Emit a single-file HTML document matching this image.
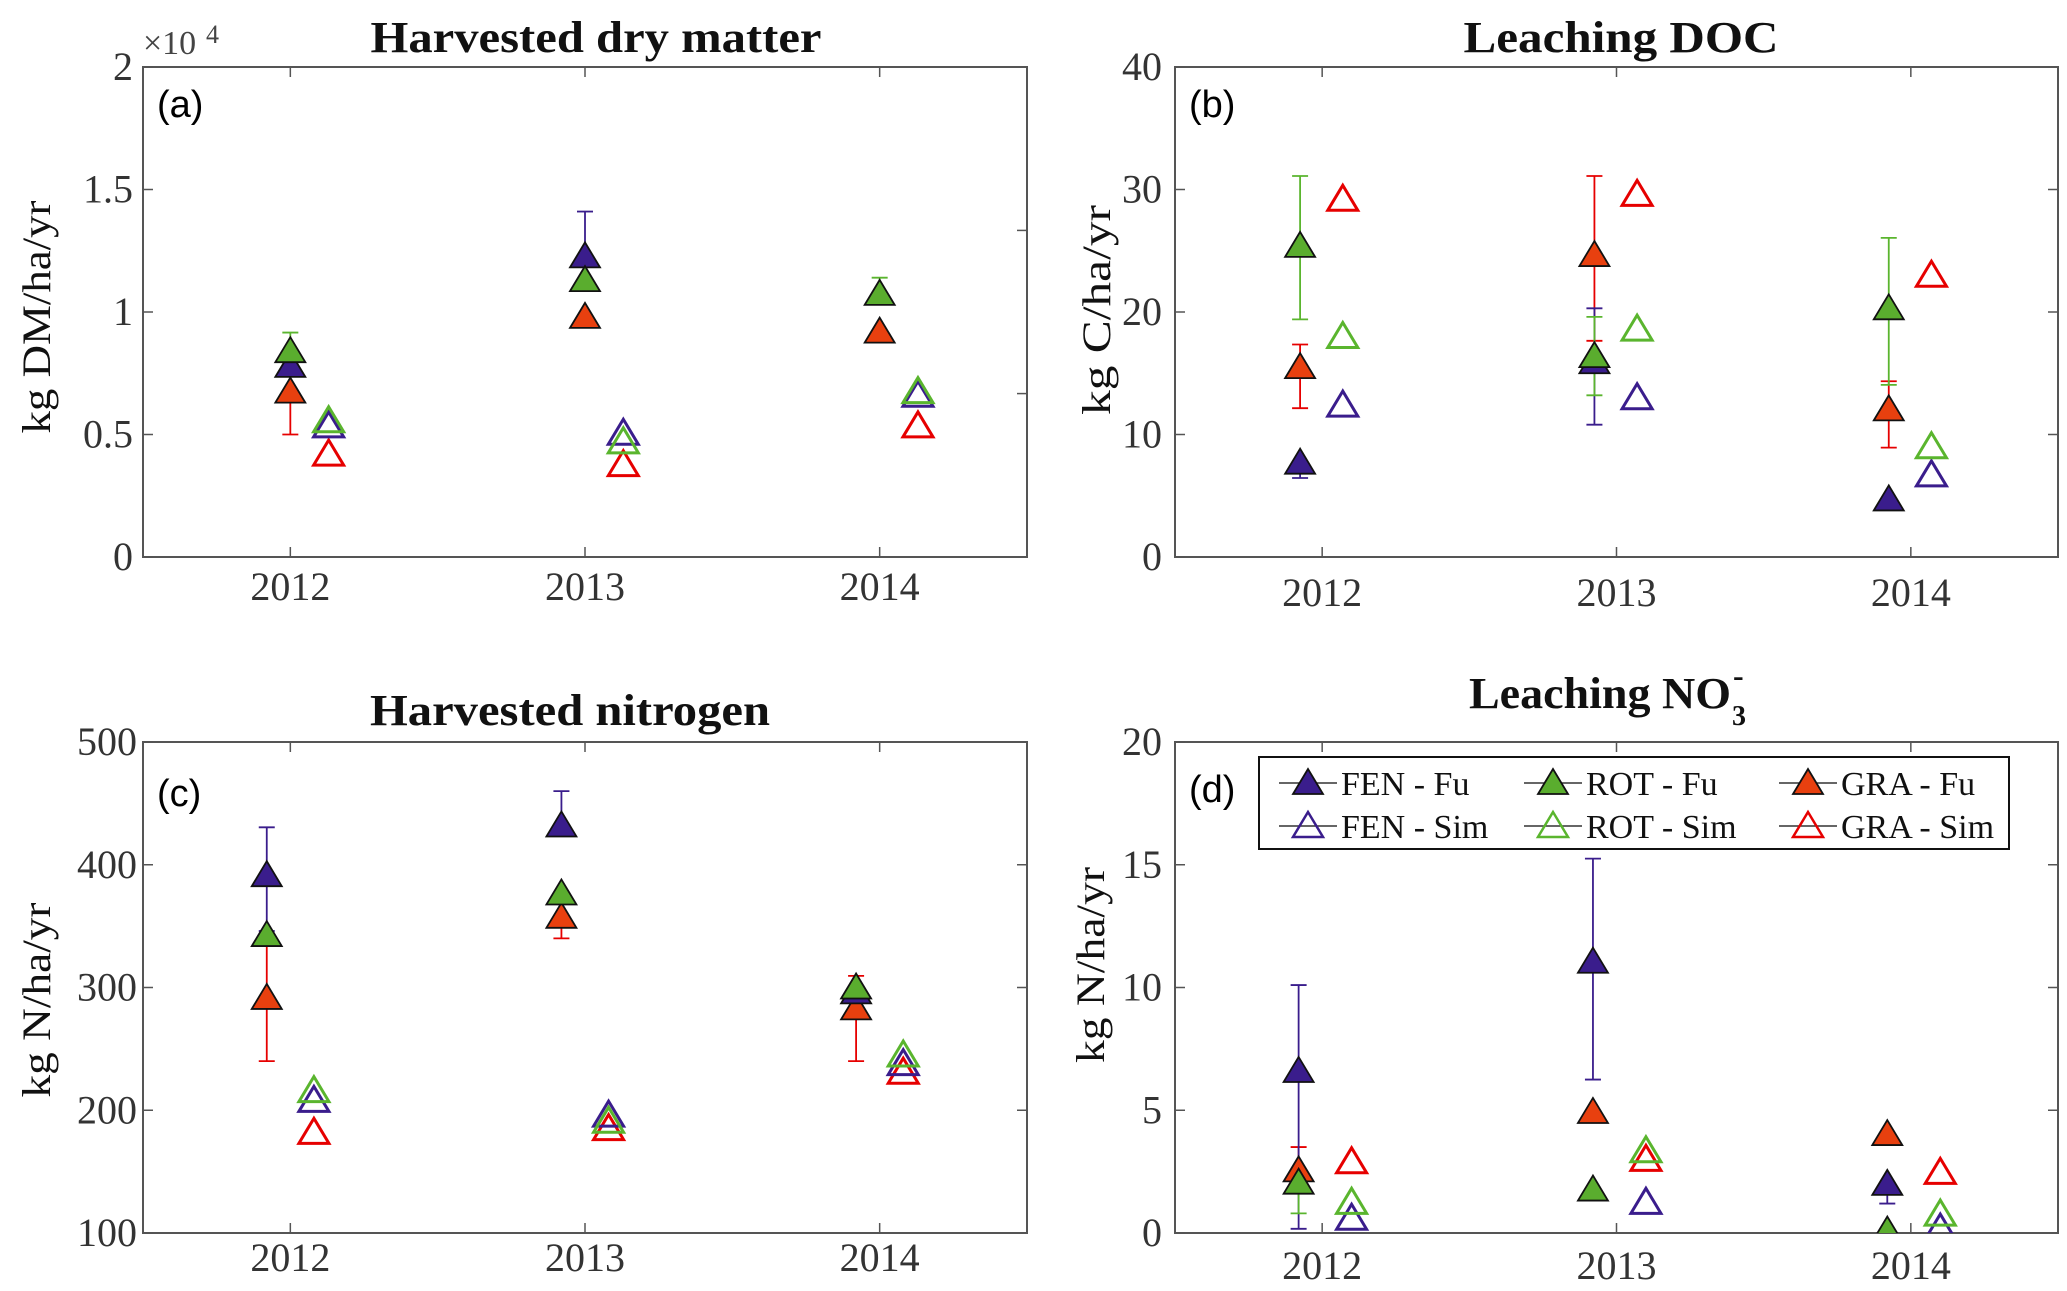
<!DOCTYPE html>
<html><head><meta charset="utf-8">
<style>
html,body{margin:0;padding:0;background:#fff;}
svg{display:block;}
text{font-family:"Liberation Serif",serif;}
</style></head>
<body>
<svg id="fig" width="2067" height="1291" viewBox="0 0 2067 1291" xmlns="http://www.w3.org/2000/svg">
<rect x="0" y="0" width="2067" height="1291" fill="#fff"/>
</svg>
<script>
// ---------- data ----------
const years = [2012, 2013, 2014];
const seriesNames = ['GRA', 'FEN', 'ROT'];
// (a) Harvested dry matter (x10^4 kg DM/ha/yr)
const aFENfu = [0.78, 1.227, NaN];
const aFENlo = [NaN, NaN, NaN];
const aFENhi = [NaN, 1.41, NaN];
const aROTfu = [0.84, 1.13, 1.074];
const aROTlo = [NaN, NaN, NaN];
const aROThi = [0.916, NaN, 1.14];
const aGRAfu = [0.675, 0.98, 0.92];
const aGRAlo = [0.50, NaN, NaN];
const aGRAhi = [NaN, NaN, NaN];
const aFENsim = [0.535, 0.505, 0.66];
const aROTsim = [0.556, 0.47, 0.675];
const aGRAsim = [0.42, 0.377, 0.535];
const aTicks = [0, 0.5, 1, 1.5, 2];
const aTickLabels = ['0', '0.5', '1', '1.5', '2'];
const aRightTicks = [0.667, 1.333];
// (b) Leaching DOC
const bFENfu = [7.7, 15.9, 4.7];
const bFENlo = [6.45, 10.8, NaN];
const bFENhi = [NaN, 20.3, NaN];
const bROTfu = [25.4, 16.4, 20.3];
const bROTlo = [19.4, 13.2, 14.05];
const bROThi = [31.1, 19.6, 26.05];
const bGRAfu = [15.5, 24.65, 12.05];
const bGRAlo = [12.15, 17.65, 8.93];
const bGRAhi = [17.35, 31.1, 14.35];
const bFENsim = [12.4, 13.0, 6.7];
const bROTsim = [18.0, 18.6, 9.0];
const bGRAsim = [29.2, 29.6, 23.0];
const bTicks = [0, 10, 20, 30, 40];
const bTickLabels = ['0', '10', '20', '30', '40'];
// (c) Harvested nitrogen
const cFENfu = [391.5, 432, 296];
const cFENlo = [346, NaN, NaN];
const cFENhi = [430.5, 460, NaN];
const cROTfu = [342.7, 376.6, 300];
const cROTlo = [NaN, NaN, NaN];
const cROThi = [NaN, NaN, NaN];
const cGRAfu = [291.5, 357.6, 283];
const cGRAlo = [240, 340, 240];
const cGRAhi = [340, 375.6, 309.5];
const cFENsim = [208, 196, 238];
const cROTsim = [216, 191, 245];
const cGRAsim = [182, 185, 231];
const cTicks = [100, 200, 300, 400, 500];
const cTickLabels = ['100', '200', '300', '400', '500'];
// (d) Leaching NO3-
const dFENfu = [6.6, 11.05, 2.0];
const dFENlo = [0.17, 6.25, 1.2];
const dFENhi = [10.1, 15.25, NaN];
const dROTfu = [2.05, 1.77, 0.1];
const dROTlo = [0.8, NaN, NaN];
const dROThi = [NaN, NaN, NaN];
const dGRAfu = [2.55, 4.93, 4.03];
const dGRAlo = [NaN, NaN, NaN];
const dGRAhi = [3.5, NaN, NaN];
const dFENsim = [0.6, 1.25, 0.2];
const dROTsim = [1.25, 3.35, 0.77];
const dGRAsim = [2.9, 3.0, 2.47];
const dTicks = [0, 5, 10, 15, 20];
const dTickLabels = ['0', '5', '10', '15', '20'];
const legendLabels = ['FEN - Fu', 'ROT - Fu', 'GRA - Fu', 'FEN - Sim', 'ROT - Sim', 'GRA - Sim'];

// ---------- styles ----------
const fuFill = {FEN: '#3a1d8c', ROT: '#5aad2e', GRA: '#e8400f'};
const simCol = {FEN: '#3a1d8c', ROT: '#5ab52e', GRA: '#e60000'};
const NS = 'http://www.w3.org/2000/svg';
const svg = document.getElementById('fig');
function mk(tag, attrs, parent) {
  const e = document.createElementNS(NS, tag);
  for (const k in attrs) e.setAttribute(k, attrs[k]);
  (parent || svg).appendChild(e);
  return e;
}

const panels = [
  {id:'a', L:143, R:1027, T:67, B:557, ymin:0, ymax:2, fuOff:0, simOff:0.13,
   title:'Harvested dry matter', titleX:596, titleY:52, titleW:451,
   ylabel:'kg DM/ha/yr', ylx:37, yly:317, ylw:233,
   ticks:aTicks, tl:aTickLabels, rt:aRightTicks, tlx:133, xly:600, letter:'(a)', lettery:117,
   fu:{FEN:[aFENfu,aFENlo,aFENhi], ROT:[aROTfu,aROTlo,aROThi], GRA:[aGRAfu,aGRAlo,aGRAhi]},
   sim:{FEN:aFENsim, ROT:aROTsim, GRA:aGRAsim}},
  {id:'b', L:1175, R:2058, T:67, B:557, ymin:0, ymax:40, fuOff:-0.075, simOff:0.07,
   title:'Leaching DOC', titleX:1621, titleY:52, titleW:315,
   ylabel:'kg C/ha/yr', ylx:1097, yly:310, ylw:210,
   ticks:bTicks, tl:bTickLabels, rt:[10,20,30], tlx:1162, xly:606, letter:'(b)', lettery:117,
   fu:{FEN:[bFENfu,bFENlo,bFENhi], ROT:[bROTfu,bROTlo,bROThi], GRA:[bGRAfu,bGRAlo,bGRAhi]},
   sim:{FEN:bFENsim, ROT:bROTsim, GRA:bGRAsim}},
  {id:'c', L:143, R:1027, T:742, B:1233, ymin:100, ymax:500, fuOff:-0.08, simOff:0.08,
   title:'Harvested nitrogen', titleX:570, titleY:725, titleW:400,
   ylabel:'kg N/ha/yr', ylx:37, yly:1000, ylw:195,
   ticks:cTicks, tl:cTickLabels, rt:[200,300,400], tlx:137, xly:1271, letter:'(c)', lettery:806,
   fu:{FEN:[cFENfu,cFENlo,cFENhi], ROT:[cROTfu,cROTlo,cROThi], GRA:[cGRAfu,cGRAlo,cGRAhi]},
   sim:{FEN:cFENsim, ROT:cROTsim, GRA:cGRAsim}},
  {id:'d', L:1175, R:2058, T:742, B:1233, ymin:0, ymax:20, fuOff:-0.08, simOff:0.1,
   title:'Leaching NO', titleX:1600, titleY:708, titleW:262,
   ylabel:'kg N/ha/yr', ylx:1091, yly:965, ylw:196,
   ticks:dTicks, tl:dTickLabels, rt:[5,10,15], tlx:1162, xly:1279, letter:'(d)', lettery:802,
   fu:{FEN:[dFENfu,dFENlo,dFENhi], ROT:[dROTfu,dROTlo,dROThi], GRA:[dGRAfu,dGRAlo,dGRAhi]},
   sim:{FEN:dFENsim, ROT:dROTsim, GRA:dGRAsim}}
];

function tri(g, cx, cy, fill, stroke, sw) {
  return mk('polygon', {points:`${cx},${cy-14} ${cx-15},${cy+11} ${cx+15},${cy+11}`, fill:fill, stroke:stroke, 'stroke-width':sw, 'stroke-linejoin':'miter'}, g);
}

panels.forEach(p => {
  const g = mk('g', {});
  
  
  const xs = yr => p.L + (yr - 2011.5) / 3 * (p.R - p.L);
  const ys = v => p.B - (v - p.ymin) / (p.ymax - p.ymin) * (p.B - p.T);
  const box = mk('rect', {x:p.L, y:p.T, width:p.R-p.L, height:p.B-p.T, fill:'none', stroke:'#555', 'stroke-width':2}, g);
  
  
  years.forEach(yr => {
    const x = xs(yr);
    mk('line', {x1:x, y1:p.B, x2:x, y2:p.B-10, stroke:'#555', 'stroke-width':1.5}, g);
    mk('line', {x1:x, y1:p.T, x2:x, y2:p.T+10, stroke:'#555', 'stroke-width':1.5}, g);
    const t = mk('text', {x:x, y:p.xly, 'text-anchor':'middle', 'font-size':40, fill:'#333'}, g);
    t.textContent = yr;
    
    
  });
  p.ticks.forEach((v, i) => {
    const y = ys(v);
    mk('line', {x1:p.L, y1:y, x2:p.L+10, y2:y, stroke:'#555', 'stroke-width':1.5}, g);
    const t = mk('text', {x:p.tlx, y:y+13, 'text-anchor':'end', 'font-size':40, fill:'#333'}, g);
    t.textContent = p.tl[i];
    
    
  });
  p.rt.forEach(v => {
    const y = ys(v);
    mk('line', {x1:p.R, y1:y, x2:p.R-10, y2:y, stroke:'#555', 'stroke-width':1.5}, g);
  });
  const tt = mk('text', {x:p.titleX, y:p.titleY, 'text-anchor':'middle', 'font-size':44, 'font-weight':'bold', fill:'#111', textLength:p.titleW, lengthAdjust:'spacingAndGlyphs'}, g);
  tt.textContent = p.title;
  
  
  if (p.id === 'd') {
    const s3 = mk('text', {x:1732, y:725, 'font-size':28, 'font-weight':'bold', fill:'#111'}, g);
    s3.textContent = '3';
    
    
    const sm = mk('text', {x:1733, y:686, 'font-size':32, 'font-weight':'bold', fill:'#111'}, g);
    sm.textContent = '-';
    
    
  }
  const yl = mk('text', {x:0, y:0, 'text-anchor':'middle', 'font-size':40, fill:'#111', transform:`translate(${p.ylx+13},${p.yly}) rotate(-90)`, textLength:p.ylw, lengthAdjust:'spacingAndGlyphs'}, g);
  yl.textContent = p.ylabel;
  
  
  if (p.id === 'a') {
    const ex = mk('text', {x:143, y:54, 'font-size':34, fill:'#444'}, g);
    ex.textContent = '\u00d710';
    
    
    const e4 = mk('text', {x:206, y:43, 'font-size':26, fill:'#444'}, g);
    e4.textContent = '4';
    
    
  }
  const lt = mk('text', {x:p.L+14, y:p.lettery, 'font-size':38, fill:'#000', style:'font-family:"Liberation Sans",sans-serif'}, g);
  lt.textContent = p.letter;
  
  
  const cp = mk('clipPath', {id:'clip-' + p.id}, g);
  mk('rect', {x:p.L, y:p.T, width:p.R-p.L, height:p.B-p.T}, cp);
  const plot = mk('g', {'clip-path':`url(#clip-${p.id})`}, g);
  
  
  ['GRA', 'FEN', 'ROT'].forEach(s => {
    const vals = p.sim[s];
    years.forEach((yr, i) => {
      if (isNaN(vals[i])) return;
      const m = tri(plot, xs(yr + p.simOff), ys(vals[i]), 'none', simCol[s], 3);
      
      
    });
  });
  seriesNames.forEach(s => {
    const [vals, lo, hi] = p.fu[s];
    years.forEach((yr, i) => {
      if (isNaN(vals[i])) return;
      const x = xs(yr + p.fuOff), y = ys(vals[i]);
      [lo[i], hi[i]].forEach(ev => {
        if (isNaN(ev)) return;
        const ey = ys(ev);
        const l = mk('line', {x1:x, y1:y, x2:x, y2:ey, stroke:simCol[s], 'stroke-width':1.8}, plot);
        
        
        mk('line', {x1:x-8, y1:ey, x2:x+8, y2:ey, stroke:simCol[s], 'stroke-width':1.8}, plot);
      });
    });
  });
  seriesNames.forEach(s => {
    const vals = p.fu[s][0];
    years.forEach((yr, i) => {
      if (isNaN(vals[i])) return;
      const m = tri(plot, xs(yr + p.fuOff), ys(vals[i]), fuFill[s], '#111', 1.8);
      
      
    });
  });
});

const lg = mk('g', {});


mk('rect', {x:1259, y:757, width:750, height:92, fill:'#fff', stroke:'#111', 'stroke-width':2}, lg);
const colX = [1279, 1524, 1779];
const rowY = [783, 826];
const legKeys = ['FEN', 'ROT', 'GRA'];
legendLabels.forEach((lab, k) => {
  const col = k % 3, row = Math.floor(k / 3);
  const x0 = colX[col], y = rowY[row], s = legKeys[col];
  const e = mk('g', {}, lg);
  
  
  mk('line', {x1:x0, y1:y, x2:x0+58, y2:y, stroke:'#333', 'stroke-width':1.5}, e);
  if (row === 0) tri(e, x0+29, y, fuFill[s], '#111', 1.8);
  else tri(e, x0+29, y, 'none', simCol[s], 2.5);
  const t = mk('text', {x:x0+62, y:y+12, 'font-size':34, fill:'#111'}, e);
  t.textContent = lab;
});
</script>
</body></html>
